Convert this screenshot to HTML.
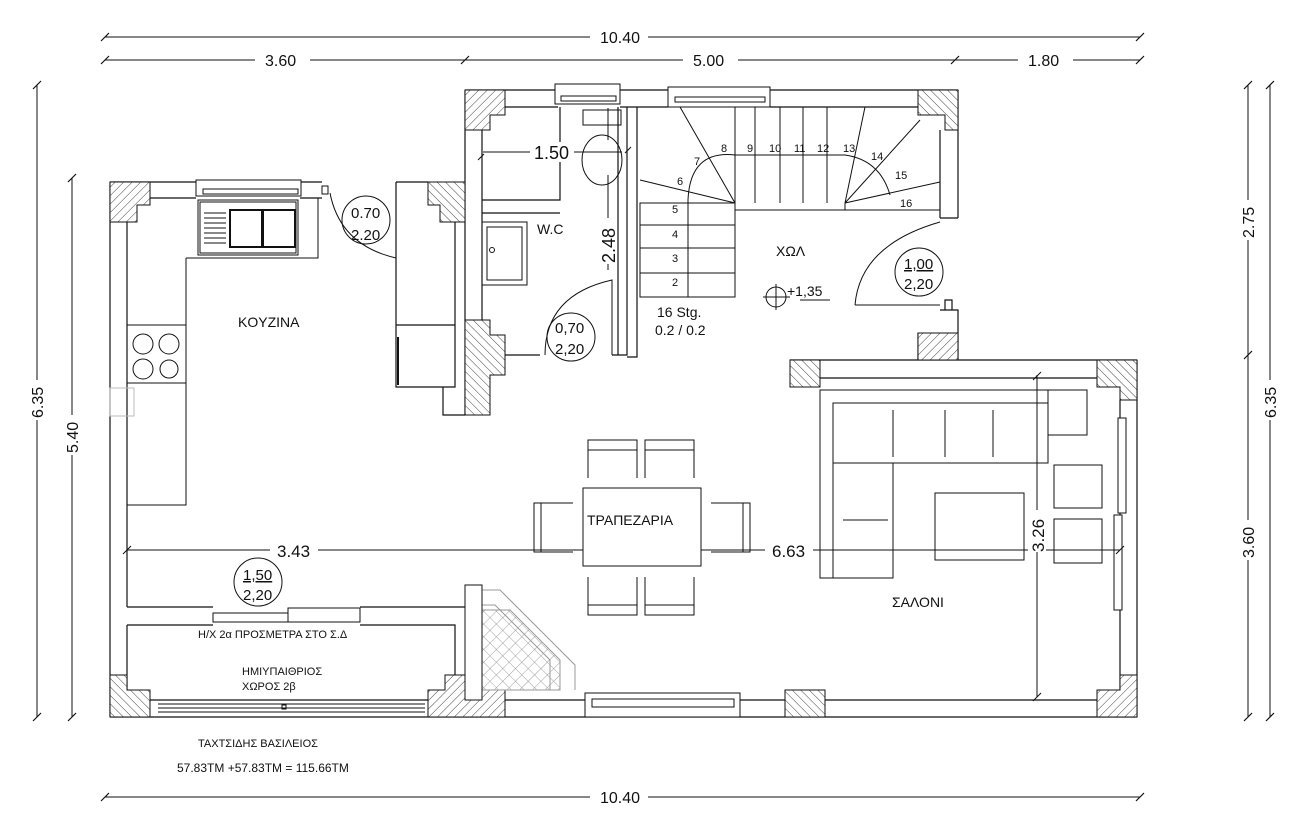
<!DOCTYPE html>
<html><head><meta charset="utf-8"><style>
html,body{margin:0;padding:0;background:#fff}
svg{display:block}
text{font-family:"Liberation Sans","DejaVu Sans",sans-serif;fill:#111}
</style></head><body>
<svg width="1300" height="830" viewBox="0 0 1300 830" xmlns="http://www.w3.org/2000/svg">
<defs>
<pattern id="h" width="6" height="6" patternUnits="userSpaceOnUse" patternTransform="rotate(45)">
<rect width="6" height="6" fill="#fff"/><line x1="0" y1="0" x2="0" y2="6" stroke="#444" stroke-width="1"/></pattern>
<pattern id="h2" width="6" height="6" patternUnits="userSpaceOnUse" patternTransform="rotate(-45)">
<rect width="6" height="6" fill="#fff"/><line x1="0" y1="0" x2="0" y2="6" stroke="#444" stroke-width="1"/></pattern>
<pattern id="g" width="9" height="9" patternUnits="userSpaceOnUse" patternTransform="rotate(45)">
<rect width="9" height="9" fill="#fff"/><path d="M0 0H9M0 0V9" stroke="#888" stroke-width="0.8"/></pattern>
</defs>
<g stroke="#111" stroke-width="1" fill="none">
<line x1="105" y1="37" x2="1140" y2="37"/><line x1="105" y1="60" x2="1140" y2="60"/>
<line x1="105" y1="797" x2="1140" y2="797"/>
<line x1="37" y1="85" x2="37" y2="717"/><line x1="72" y1="178" x2="72" y2="717"/>
<line x1="1248" y1="85" x2="1248" y2="717"/><line x1="1270" y1="85" x2="1270" y2="717"/>
<g stroke-width="1.2">
<path d="M101 41l8-8M1136 41l8-8M101 64l8-8M461 64l8-8M951 64l8-8M1136 64l8-8M101 801l8-8M1136 801l8-8"/>
<path d="M33 89l8-8M33 721l8-8M68 182l8-8M68 721l8-8M1244 89l8-8M1244 359l8-8M1244 721l8-8M1266 89l8-8M1266 721l8-8"/>
</g>
</g>
<g font-size="16">
<rect x="590" y="28" width="58" height="18" fill="#fff"/><text x="600" y="43">10.40</text>
<rect x="255" y="51" width="55" height="18" fill="#fff"/><text x="265" y="66">3.60</text>
<rect x="683" y="51" width="55" height="18" fill="#fff"/><text x="693" y="66">5.00</text>
<rect x="1018" y="51" width="55" height="18" fill="#fff"/><text x="1028" y="66">1.80</text>
<rect x="590" y="788" width="58" height="18" fill="#fff"/><text x="600" y="803">10.40</text>
<rect x="28" y="380" width="18" height="40" fill="#fff"/><text transform="translate(43,418) rotate(-90)">6.35</text>
<rect x="63" y="415" width="18" height="40" fill="#fff"/><text transform="translate(78,453) rotate(-90)">5.40</text>
<rect x="1239" y="200" width="18" height="40" fill="#fff"/><text transform="translate(1254,238) rotate(-90)">2.75</text>
<rect x="1239" y="520" width="18" height="40" fill="#fff"/><text transform="translate(1254,558) rotate(-90)">3.60</text>
<rect x="1261" y="380" width="18" height="40" fill="#fff"/><text transform="translate(1276,418) rotate(-90)">6.35</text>
</g>

<g stroke="#111" stroke-width="1.2" fill="none">
<path d="M110 182H322M127 198H196M300 198H322M110 182V717M127 222V607M127 625V700"/>
<path d="M110 717H1137M150 700H428M505 700H590M740 700H785M825 700H1097"/>
<path d="M127 607H213M127 625H213M360 607H465M360 625H455V675"/>
<path d="M465 90H958M505 107H558M620 107H668M770 107H918M465 90V415M482 130V320"/>
<path d="M958 90V218M940 130V218M940 218H958"/>
<path d="M482 200H560V107M482 213H560"/>
<path d="M618 107V355H627V107M505 355H540M612 355H627"/>
<path d="M627 357H637V107"/>
<path d="M790 360H1137M820 378H1097M1137 360V717M1120 400V695M918 333V360M958 333V360"/>
<path d="M940 310H958V333M945 310V300H952V310"/>
<path d="M396 182H428M396 182V387H455V222M396 325H455"/>
<path d="M443 387V415H465"/>
</g>

<g stroke="#111" stroke-width="1">
<path d="M110 182H150V205H137V222H110Z" fill="url(#h)"/>
<path d="M428 182H465V222H440V205H428Z" fill="url(#h2)"/>
<path d="M465 90H505V115H490V130H465Z" fill="url(#h)"/>
<path d="M918 90H958V130H945V115H918Z" fill="url(#h2)"/>
<path d="M465 320H490V335H505V375H490V415H465Z" fill="url(#h2)"/>
<path d="M918 333H958V360H918Z" fill="url(#h)"/>
<path d="M790 360H820V387H790Z" fill="url(#h2)"/>
<path d="M1097 360H1137V400H1120V387H1097Z" fill="url(#h2)"/>
<path d="M110 675H127V690H150V717H110Z" fill="url(#h2)"/>
<path d="M445 675H490V690H505V717H428V690H445Z" fill="url(#h)"/>
<path d="M785 690H825V717H785Z" fill="url(#h2)"/>
<path d="M1120 675H1137V717H1097V690H1120Z" fill="url(#h)"/>
<path d="M478 610L510 610L560 660V690H478Z" fill="url(#g)" stroke="#999"/>
</g>
<g stroke="#999" fill="none"><path d="M482 590H500L575 665V690M482 605H495L550 660V690"/><path d="M465 585H482V700H465Z" stroke="#111" fill="#fff"/></g>

<g stroke="#111" stroke-width="1" fill="#fff">
<rect x="196" y="180" width="105" height="16"/><rect x="203" y="189" width="95" height="5"/>
<rect x="322" y="186" width="6" height="8"/>
<rect x="555" y="84" width="65" height="20"/><rect x="561" y="96" width="55" height="5"/>
<rect x="668" y="87" width="102" height="20"/><rect x="675" y="97" width="90" height="5"/>
<rect x="213" y="613" width="75" height="9"/><rect x="288" y="608" width="72" height="14"/>
<rect x="585" y="693" width="155" height="24"/><rect x="592" y="699" width="142" height="8"/>
<rect x="1118" y="418" width="8" height="95"/><rect x="1114" y="515" width="8" height="95"/>
</g>
<g stroke="#111" fill="none"><path d="M158 704H425M158 708H425M158 712H425"/><rect x="282" y="705" width="4" height="4"/></g>

<g stroke="#111" stroke-width="1" fill="none">
<path d="M186 258H318V198M186 258V505H127M127 325H186M127 383H186"/>
<rect x="198" y="200" width="100" height="55"/><rect x="200" y="202" width="96" height="51"/>
<rect x="230" y="210" width="32" height="37" stroke-width="2"/><rect x="263" y="210" width="32" height="37" stroke-width="2"/>
<path d="M204 213H226M204 218H226M204 223H226M204 228H226M204 233H226M204 238H226M204 243H226"/>
<circle cx="143" cy="344" r="10"/><circle cx="169" cy="344" r="10"/><circle cx="143" cy="369" r="10"/><circle cx="169" cy="369" r="9"/>
<path d="M330 193Q340 245 396 258"/>
<path d="M398 337V385" stroke-width="2"/>
<rect x="110" y="388" width="24" height="28" stroke="#bbb"/>
</g>
<g stroke="#111" fill="none">
<rect x="482" y="222" width="45" height="63"/><rect x="487" y="227" width="35" height="53"/><circle cx="492" cy="250" r="2.5"/>
<rect x="583" y="110" width="38" height="15"/><ellipse cx="602" cy="160" rx="20" ry="25"/>
<path d="M545 355Q545 295 612 280V355"/>
<path d="M478 160L484 154M625 153L631 147M800 300H830"/>
<path d="M483 152H532M574 152H622M608 108V140M608 175V270"/>
</g>
<g stroke="#111" stroke-width="1" fill="none">
<path d="M640 297V203H735V297H640Z"/>
<path d="M640 273H735M640 248H735M640 225H735"/>
<path d="M688 297V200Q690 150 735 155H845Q880 160 890 195"/>
<path d="M735 203L640 180M735 203L680 107M735 203L735 107M755 203V107M780 203V107M803 203V107M827 203V107M845 203L865 107M845 203L920 120M845 203L940 182"/>
<path d="M735 210H940M845 210V203"/>
</g>
<g font-size="11">
<text x="672" y="286">2</text><text x="672" y="262">3</text><text x="672" y="238">4</text><text x="672" y="213">5</text>
<text x="677" y="185">6</text><text x="694" y="165">7</text><text x="721" y="152">8</text><text x="747" y="152">9</text>
<text x="769" y="152">10</text><text x="794" y="152">11</text><text x="817" y="152">12</text><text x="843" y="152">13</text>
<text x="871" y="160">14</text><text x="895" y="179">15</text><text x="900" y="207">16</text>
</g>
<g stroke="#111" fill="none"><path d="M855 305Q860 245 940 222M855 305H940"/>
<circle cx="776" cy="297" r="10"/><path d="M763 297H790M776 284V310"/></g>

<g stroke="#111" stroke-width="1" fill="none">
<path d="M820 578V390H1048V463H893V578ZM833 578V403H1048M833 463H893"/>
<rect x="1048" y="390" width="39" height="45"/>
<path d="M893 410V457M945 410V457M993 410V457M843 520H888"/>
<rect x="935" y="493" width="89" height="67"/>
<rect x="1054" y="465" width="48" height="43"/><rect x="1054" y="519" width="48" height="44"/>
<path d="M1037 375V697M1033 380l8-8M1033 701l8-8"/>
<path d="M127 550H1120M123 554l8-8M1116 554l8-8"/>
<rect x="583" y="488" width="118" height="78" fill="#fff"/>
<path d="M588 478V440H637V478M588 450H637M645 478V440H694V478M645 450H694"/>
<path d="M588 577V615H637V577M588 605H637M645 577V615H694V577M645 605H694"/>
<path d="M573 503H534V552H573M541 503V552M711 503H750V552H711M743 503V552"/>
</g>
<g font-size="14">
<rect x="270" y="541" width="48" height="18" fill="#fff"/><text x="277" y="557" font-size="17">3.43</text>
<rect x="765" y="541" width="48" height="18" fill="#fff"/><text x="772" y="557" font-size="17">6.63</text>
<rect x="1028" y="510" width="18" height="42" fill="#fff"/><text transform="translate(1044,552) rotate(-90)" font-size="17">3.26</text>
<rect x="530" y="142" width="44" height="20" fill="#fff"/><text x="534" y="159" font-size="18">1.50</text>
<rect x="598" y="218" width="18" height="46" fill="#fff"/><text transform="translate(615,263) rotate(-90)" font-size="18">2.48</text>
<text x="238" y="327">KOYZINA</text>
<text x="537" y="234">W.C</text>
<text x="776" y="256">ΧΩΛ</text>
<text x="787" y="296">+1,35</text>
<text x="657" y="317">16 Stg.</text>
<text x="655" y="335">0.2 / 0.2</text>
<text x="587" y="525">ΤΡΑΠΕΖΑΡΙΑ</text>
<text x="892" y="607">ΣΑΛΟΝΙ</text>
</g>
<g font-size="11">
<text x="198" y="638">Η/Χ 2α ΠΡΟΣΜΕΤΡΑ ΣΤΟ Σ.Δ</text>
<text x="242" y="675">ΗΜΙΥΠΑΙΘΡΙΟΣ</text>
<text x="242" y="690">ΧΩΡΟΣ 2β</text>
<text x="198" y="747">ΤΑΧΤΣΙΔΗΣ ΒΑΣΙΛΕΙΟΣ</text>
<text x="177" y="772" font-size="12">57.83ΤΜ +57.83ΤΜ = 115.66ΤΜ</text>
</g>
<g stroke="#111" fill="none"><circle cx="366" cy="220" r="24"/><circle cx="571" cy="337" r="24"/><circle cx="919" cy="272" r="24"/><circle cx="258" cy="582" r="24"/></g>
<g font-size="15">
<text x="351" y="218">0.70</text><text x="351" y="240">2.20</text>
<text x="555" y="333">0,70</text><text x="555" y="354">2,20</text>
<text x="904" y="269" text-decoration="underline">1,00</text><text x="904" y="289">2,20</text>
<text x="243" y="580" text-decoration="underline">1,50</text><text x="243" y="600">2,20</text>
</g>
</svg>
</body></html>
